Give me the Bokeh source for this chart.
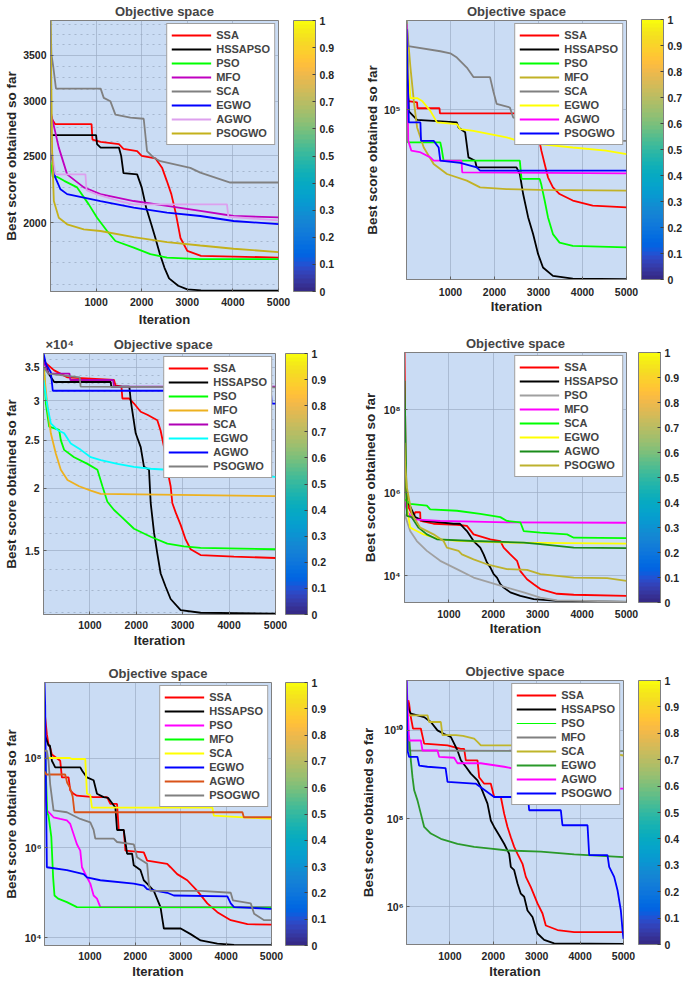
from bokeh.plotting import figure
from bokeh.layouts import column, row
from bokeh.models import Range1d, FixedTicker, ColorBar, LinearColorMapper
from bokeh.embed import file_html
from bokeh.resources import INLINE

FONT = "Liberation Sans"
BG = "#CADCF4"
GRID = "#9CADC4"
FRAME = "#7F7F7F"

NAMES = ["SSA", "HSSAPSO", "PSO", "MFO", "SCA", "EGWO", "AGWO", "PSOGWO"]
X_TICKS = [1000, 2000, 3000, 4000, 5000]
CB_TICKS = [0, 0.1, 0.2, 0.3, 0.4, 0.5, 0.6, 0.7, 0.8, 0.9, 1]
CB_LABELS = ["0", "0.1", "0.2", "0.3", "0.4", "0.5", "0.6", "0.7", "0.8", "0.9", "1"]

PARULA_RGB = [
    (0.2081, 0.1663, 0.5292), (0.2116, 0.1898, 0.5777), (0.2123, 0.2138, 0.6270), (0.2081, 0.2386, 0.6771),
    (0.1959, 0.2645, 0.7279), (0.1707, 0.2919, 0.7792), (0.1253, 0.3242, 0.8303), (0.0591, 0.3598, 0.8683),
    (0.0117, 0.3875, 0.8820), (0.0060, 0.4086, 0.8828), (0.0165, 0.4266, 0.8786), (0.0329, 0.4430, 0.8720),
    (0.0498, 0.4586, 0.8641), (0.0629, 0.4737, 0.8554), (0.0723, 0.4887, 0.8467), (0.0779, 0.5040, 0.8384),
    (0.0793, 0.5200, 0.8312), (0.0749, 0.5375, 0.8263), (0.0641, 0.5570, 0.8240), (0.0488, 0.5772, 0.8228),
    (0.0343, 0.5966, 0.8199), (0.0265, 0.6137, 0.8135), (0.0239, 0.6287, 0.8038), (0.0231, 0.6418, 0.7913),
    (0.0228, 0.6535, 0.7768), (0.0267, 0.6642, 0.7607), (0.0384, 0.6743, 0.7436), (0.0590, 0.6838, 0.7254),
    (0.0843, 0.6928, 0.7062), (0.1133, 0.7015, 0.6859), (0.1453, 0.7098, 0.6646), (0.1801, 0.7177, 0.6424),
    (0.2178, 0.7250, 0.6193), (0.2586, 0.7317, 0.5954), (0.3022, 0.7376, 0.5712), (0.3482, 0.7424, 0.5473),
    (0.3953, 0.7459, 0.5244), (0.4420, 0.7481, 0.5033), (0.4871, 0.7491, 0.4840), (0.5300, 0.7491, 0.4661),
    (0.5709, 0.7485, 0.4494), (0.6099, 0.7473, 0.4337), (0.6473, 0.7456, 0.4188), (0.6834, 0.7435, 0.4044),
    (0.7184, 0.7411, 0.3905), (0.7525, 0.7384, 0.3768), (0.7858, 0.7356, 0.3633), (0.8185, 0.7327, 0.3498),
    (0.8507, 0.7299, 0.3360), (0.8824, 0.7274, 0.3217), (0.9139, 0.7258, 0.3063), (0.9450, 0.7261, 0.2886),
    (0.9739, 0.7314, 0.2666), (0.9938, 0.7455, 0.2403), (0.9990, 0.7653, 0.2164), (0.9955, 0.7861, 0.1967),
    (0.9880, 0.8066, 0.1794), (0.9789, 0.8271, 0.1633), (0.9697, 0.8481, 0.1475), (0.9626, 0.8705, 0.1309),
    (0.9589, 0.8949, 0.1132), (0.9598, 0.9218, 0.0948), (0.9661, 0.9514, 0.0755), (0.9763, 0.9831, 0.0538),
]
PARULA = ["#%02x%02x%02x" % tuple(int(round(c * 255)) for c in t) for t in PARULA_RGB]

# ---------------- Panel 1 (top left) ----------------
tl_ssa = [(1, 2880), (40, 2820), (100, 2780), (900, 2780), (920, 2640), (1100, 2620), (1500, 2600), (1600, 2560),
          (1900, 2540), (2000, 2500), (2300, 2480), (2450, 2400), (2550, 2300), (2650, 2200), (2750, 2060),
          (2850, 1900), (3000, 1820), (3300, 1790), (5000, 1780)]
tl_hss = [(1, 2680), (1000, 2680), (1020, 2600), (1100, 2570), (1500, 2570), (1550, 2500), (1600, 2360),
          (1900, 2350), (2000, 2250), (2100, 2100), (2200, 2000), (2300, 1900), (2400, 1800), (2500, 1720),
          (2600, 1660), (2800, 1620), (3000, 1600), (3300, 1595), (5000, 1593)]
tl_pso = [(1, 2450), (50, 2330), (150, 2330), (300, 2300), (584, 2250), (839, 2126), (1022, 2033), (1241, 1945),
          (1423, 1881), (1825, 1840), (2190, 1800), (2555, 1780), (3285, 1770), (5000, 1770)]
tl_mfo = [(1, 2900), (182, 2570), (365, 2350), (730, 2250), (1095, 2200), (1825, 2150), (2555, 2115),
          (3285, 2080), (4015, 2045), (5000, 2035)]
tl_sca = [(1, 3930), (20, 3510), (60, 3370), (120, 3130), (1100, 3130), (1168, 3035), (1314, 3000), (1423, 2870),
          (1752, 2840), (2044, 2830), (2117, 2540), (2263, 2485), (2409, 2456), (3066, 2402), (3285, 2364),
          (3942, 2287), (5000, 2287)]
tl_egwo = [(1, 2550), (109, 2323), (219, 2236), (365, 2200), (1095, 2150), (1825, 2103), (2555, 2068),
           (3285, 2045), (4015, 2011), (5000, 1990)]
tl_agwo = [(1, 2600), (110, 2350), (766, 2350), (790, 2230), (1000, 2200), (1500, 2150), (1825, 2126),
           (3870, 2126), (3900, 2040), (5000, 2015)]
tl_psogwo = [(1, 3930), (36, 2540), (73, 2150), (182, 2033), (365, 1989), (730, 1956), (1095, 1945),
             (1825, 1905), (2555, 1874), (3285, 1853), (4015, 1833), (5000, 1813)]
tl_colors = ["#FF0000", "#000000", "#00FF00", "#C000C0", "#808080", "#0000FF", "#DDA0EE", "#C4B11B"]
tl_yticks = [2000, 2500, 3000, 3500]
tl_ylabels = ["2000", "2500", "3000", "3500"]
tl_yminor = [1625, 1750, 1875, 2125, 2250, 2375, 2625, 2750, 2875, 3125, 3250, 3375, 3625, 3750, 3875]

# ---------------- Panel 2 (top right) ----------------
tr_ssa = [(1, 1.06e5), (240, 1.05e5), (250, 1.01e5), (750, 1.01e5), (760, 0.976e5), (2950, 0.976e5),
          (3000, 0.84e5), (3065, 0.764e5), (3140, 0.70e5), (3215, 0.641e5), (3328, 0.60e5), (3479, 0.574e5),
          (3780, 0.55e5), (4232, 0.532e5), (5000, 0.526e5)]
tr_hss = [(1, 1.72e5), (53, 0.99e5), (241, 0.936e5), (1145, 0.92e5), (1182, 0.89e5), (1333, 0.862e5),
          (1408, 0.731e5), (1559, 0.715e5), (1596, 0.684e5), (2500, 0.684e5), (2575, 0.655e5), (2651, 0.574e5),
          (2764, 0.493e5), (2877, 0.441e5), (2990, 0.387e5), (3102, 0.354e5), (3328, 0.335e5), (3780, 0.329e5),
          (5000, 0.328e5)]
tr_pso = [(1, 1.15e5), (30, 0.807e5), (768, 0.807e5), (800, 0.772e5), (843, 0.715e5), (2575, 0.715e5),
          (2614, 0.634e5), (3027, 0.634e5), (3065, 0.61e5), (3140, 0.55e5), (3215, 0.493e5), (3328, 0.441e5),
          (3479, 0.417e5), (3780, 0.408e5), (5000, 0.404e5)]
tr_mfo = [(1, 1.8e5), (90, 1.32e5), (166, 1.06e5), (241, 0.89e5), (392, 0.78e5), (617, 0.70e5), (919, 0.655e5),
          (1371, 0.627e5), (1672, 0.60e5), (2274, 0.593e5), (3027, 0.59e5), (5000, 0.587e5)]
tr_sca = [(1, 1.8e5), (40, 1.52e5), (768, 1.47e5), (994, 1.45e5), (1145, 1.41e5), (1371, 1.32e5), (1521, 1.24e5),
          (1898, 1.24e5), (1973, 1.13e5), (2048, 1.04e5), (2349, 1.015e5), (2425, 0.95e5), (3000, 0.93e5),
          (3800, 0.88e5), (4684, 0.815e5), (5000, 0.815e5)]
tr_egwo = [(1, 1.5e5), (90, 1.08e5), (241, 1.08e5), (354, 1.06e5), (542, 0.993e5), (693, 0.92e5), (1145, 0.91e5),
           (1220, 0.88e5), (1521, 0.87e5), (1898, 0.852e5), (2274, 0.834e5), (2651, 0.807e5), (3027, 0.798e5),
           (3780, 0.78e5), (4533, 0.764e5), (5000, 0.747e5)]
tr_agwo = [(1, 1.76e5), (40, 0.815e5), (110, 0.764e5), (300, 0.757e5), (542, 0.731e5), (617, 0.715e5),
           (1250, 0.715e5), (1267, 0.662e5), (5000, 0.658e5)]
tr_psogwo = [(1, 1.70e5), (53, 0.92e5), (316, 0.92e5), (330, 0.815e5), (617, 0.815e5), (730, 0.78e5),
             (768, 0.715e5), (1220, 0.705e5), (1596, 0.684e5), (1672, 0.67e5), (5000, 0.67e5)]
tr_colors = ["#FF0000", "#000000", "#00FF00", "#C2B226", "#808080", "#FFFF00", "#FF00FF", "#0000FF"]
tr_yticks = [1e5]
tr_ylabels = ["10\u2075"]

# ---------------- Panel 3 (middle left) ----------------
ml_ssa = [(1, 3.6e4), (230, 3.45e4), (517, 3.34e4), (1520, 3.3e4), (1550, 3.22e4), (1680, 3.2e4), (1700, 3.03e4),
          (1844, 3.03e4), (1951, 2.96e4), (2095, 2.85e4), (2238, 2.81e4), (2453, 2.74e4), (2525, 2.61e4),
          (2597, 2.42e4), (2669, 2.18e4), (2740, 2.02e4), (2776, 1.87e4), (2848, 1.79e4), (2956, 1.69e4),
          (3063, 1.58e4), (3171, 1.51e4), (3386, 1.47e4), (4103, 1.46e4), (5000, 1.45e4)]
ml_hss = [(1, 3.67e4), (100, 3.41e4), (230, 3.27e4), (1450, 3.27e4), (1460, 3.2e4), (1850, 3.2e4), (1880, 3.0e4),
          (1987, 2.58e4), (2095, 2.42e4), (2166, 2.21e4), (2274, 2.18e4), (2310, 1.87e4), (2382, 1.63e4),
          (2453, 1.48e4), (2525, 1.35e4), (2633, 1.27e4), (2740, 1.2e4), (2956, 1.14e4), (3386, 1.126e4),
          (5000, 1.122e4)]
ml_pso = [(1, 3.5e4), (14, 3.45e4), (50, 2.96e4), (122, 2.66e4), (337, 2.62e4), (373, 2.5e4), (445, 2.39e4),
          (660, 2.31e4), (947, 2.24e4), (1162, 2.18e4), (1270, 2.02e4), (1377, 1.88e4), (1521, 1.81e4),
          (1664, 1.76e4), (1951, 1.66e4), (2310, 1.6e4), (2669, 1.55e4), (3027, 1.53e4), (3386, 1.52e4),
          (5000, 1.51e4)]
ml_mfo = [(1, 3.5e4), (86, 2.92e4), (158, 2.58e4), (265, 2.35e4), (373, 2.18e4), (517, 2.08e4), (768, 2.02e4),
          (1019, 1.98e4), (1234, 1.95e4), (5000, 1.93e4)]
ml_sca = [(1, 3.6e4), (100, 3.4e4), (560, 3.4e4), (580, 3.3e4), (1500, 3.3e4), (1520, 3.2e4), (5000, 3.2e4)]
ml_egwo = [(1, 3.3e4), (86, 2.92e4), (158, 2.70e4), (301, 2.62e4), (445, 2.58e4), (588, 2.46e4), (804, 2.39e4),
           (1019, 2.31e4), (1234, 2.28e4), (1593, 2.24e4), (1951, 2.21e4), (2310, 2.19e4), (2669, 2.18e4),
           (3500, 2.16e4), (4400, 2.12e4), (5000, 2.11e4)]
ml_agwo = [(1, 3.73e4), (50, 3.56e4), (158, 3.42e4), (200, 3.14e4), (4900, 3.14e4), (4920, 2.96e4), (5000, 2.96e4)]
ml_psogwo = [(1, 3.5e4), (100, 3.4e4), (780, 3.34e4), (800, 3.2e4), (5000, 3.19e4)]
ml_colors = ["#FF0000", "#000000", "#00FF00", "#EDB120", "#B000B5", "#00FFFF", "#0000FF", "#808080"]
ml_yticks = [1.5e4, 2e4, 2.5e4, 3e4, 3.5e4]
ml_ylabels = ["1.5", "2", "2.5", "3", "3.5"]
ml_yminor = [1.125e4, 1.25e4, 1.375e4, 1.625e4, 1.75e4, 1.875e4, 2.125e4, 2.25e4, 2.375e4, 2.625e4, 2.75e4,
             2.875e4, 3.125e4, 3.25e4, 3.375e4, 3.625e4]
ml_exponent = "\u00d710\u2074"

# ---------------- Panel 4 (middle right) ----------------
mr_ssa = [(1, 2.4e9), (30, 1.35e6), (90, 4.5e5), (203, 2.6e5), (240, 3.4e5), (353, 3.4e5), (360, 2.1e5),
          (654, 1.8e5), (1180, 1.7e5), (1406, 1.6e5), (1556, 1.0e5), (1932, 7.6e4), (2158, 6.9e4), (2233, 4.8e4),
          (2383, 3.3e4), (2534, 2.3e4), (2609, 1.3e4), (2759, 8.3e3), (2910, 6.3e3), (3060, 4.8e3), (3436, 3.7e3),
          (3812, 3.5e3), (5000, 3.3e3)]
mr_hss = [(1, 8.5e6), (53, 5.9e5), (90, 5.9e5), (120, 4.9e5), (241, 2.6e5), (429, 2.1e5), (805, 1.95e5),
          (1105, 1.8e5), (1250, 1.8e5), (1331, 1.45e5), (1406, 1.2e5), (1556, 6.9e4), (1707, 4.8e4), (1782, 3.3e4),
          (1857, 2.1e4), (1932, 1.6e4), (2008, 1.1e4), (2083, 9.1e3), (2158, 6.3e3), (2233, 5.2e3), (2383, 4.0e3),
          (2609, 3.3e3), (2910, 2.75e3), (3436, 2.5e3), (5000, 2.35e3)]
mr_pso = [(1, 3.1e5), (128, 1.2e5), (278, 6.9e4), (504, 4.0e4), (805, 2.3e4), (1180, 1.45e4), (1556, 9.1e3),
          (1932, 6.9e3), (2308, 5.2e3), (2684, 4.0e3), (3060, 3.0e3), (3436, 2.57e3), (5000, 2.4e3)]
mr_mfo = [(1, 6.5e5), (60, 3.5e5), (200, 2.3e5), (805, 2.1e5), (2308, 1.95e5), (5000, 1.9e5)]
mr_sca = [(1, 7e5), (128, 5.4e5), (504, 4.9e5), (579, 4.0e5), (1180, 3.7e5), (1707, 3.1e5), (2158, 2.6e5),
          (2308, 2.1e5), (2609, 1.95e5), (2684, 1.2e5), (3060, 1.1e5), (3662, 1.0e5), (3812, 8.3e4), (5000, 8.1e4)]
mr_egwo = [(1, 5.4e7), (53, 4.5e5), (128, 1.45e5), (278, 1.2e5), (429, 1.0e5), (805, 7.6e4), (1180, 7.0e4),
           (2308, 6.3e4), (5000, 6.0e4)]
mr_agwo = [(1, 5e8), (53, 2.8e5), (160, 2.6e5), (316, 1.45e5), (504, 1.0e5), (730, 7.6e4), (1556, 6.9e4),
           (2684, 6.3e4), (3060, 5.8e4), (3812, 4.8e4), (5000, 4.65e4)]
mr_psogwo = [(1, 1.6e7), (15, 4.9e6), (53, 1.35e6), (165, 3.1e5), (353, 1.45e5), (654, 1.0e5), (880, 6.9e4),
             (955, 4.8e4), (1218, 4.0e4), (1293, 3.3e4), (1556, 2.5e4), (1857, 1.9e4), (2308, 1.45e4),
             (2759, 1.4e4), (3060, 1.1e4), (3812, 9.1e3), (4564, 8.8e3), (5000, 7.6e3)]
mr_colors = ["#FF0000", "#000000", "#A0A0A0", "#FF00FF", "#00FF00", "#FFFF00", "#1A8C1A", "#BDB22E"]
mr_yticks = [1e4, 1e6, 1e8]
mr_ylabels = ["10\u2074", "10\u2076", "10\u2078"]

# ---------------- Panel 5 (bottom left) ----------------
bl_ssa = [(1, 1.1e9), (52, 3.4e8), (88, 2.0e8), (125, 1.7e8), (162, 1.2e8), (346, 8.7e7), (383, 3.7e7),
          (530, 3.7e7), (567, 1.9e7), (641, 1.6e7), (714, 1.45e7), (1082, 1.35e7), (1377, 1.35e7), (1451, 9.5e6),
          (1598, 9.5e6), (1635, 2.5e6), (1745, 2.5e6), (1782, 8.7e5), (2187, 7.9e5), (2261, 5.2e5), (2703, 4.4e5),
          (2776, 3.7e5), (2923, 2.6e5), (3144, 1.9e5), (3365, 1.1e5), (3586, 5.8e4), (3807, 3.7e4), (4102, 2.45e4),
          (4470, 2.0e4), (5000, 1.95e4)]
bl_hss = [(1, 3.4e8), (88, 1.9e8), (120, 1.9e8), (162, 8.7e7), (236, 6.2e7), (788, 6.2e7), (830, 5.2e7),
          (935, 3.7e7), (1082, 3.2e7), (1156, 1.6e7), (1303, 1.35e7), (1400, 1.3e7), (1561, 7.9e6), (1598, 2.5e6),
          (1745, 2.5e6), (1819, 7.4e5), (1929, 7.4e5), (1966, 4.1e5), (2113, 3.2e5), (2187, 1.9e5), (2261, 1.6e5),
          (2408, 1.1e5), (2555, 4.8e4), (2629, 1.6e4), (3000, 1.6e4), (3218, 1.2e4), (3439, 8.7e3), (3807, 7.4e3),
          (4175, 6.9e3), (5000, 6.8e3)]
bl_pso = [(1, 3e7), (52, 6.8e6), (125, 5.8e6), (199, 4.8e6), (346, 4.4e6), (493, 4.1e6), (567, 3.4e6),
          (714, 1.2e6), (788, 8.7e5), (825, 3.7e5), (935, 2.2e5), (1009, 1.6e5), (1082, 8.7e4), (1156, 7.4e4),
          (1230, 4.8e4), (5000, 4.8e4)]
bl_mfo = [(1, 3e8), (60, 6e6), (88, 5.2e6), (150, 1.75e6), (190, 2.2e5), (220, 8.7e4), (300, 7.4e4), (493, 6.2e4),
          (714, 4.8e4), (5000, 4.7e4)]
bl_sca = [(1, 1.2e8), (50, 1.0e8), (560, 1.0e8), (604, 9.5e7), (898, 9.5e7), (935, 1.6e7), (1009, 1.5e7),
          (1046, 7.9e6), (3697, 7.9e6), (3730, 5.2e6), (5000, 4.4e6)]
bl_egwo = [(1, 4.8e9), (15, 1.5e9), (30, 4e7), (52, 3.7e5), (493, 3.2e5), (862, 2.6e5), (935, 2.2e5),
           (1230, 1.9e5), (1966, 1.6e5), (2187, 1.45e5), (2261, 1.2e5), (2703, 1.0e5), (2850, 8.7e4),
           (4028, 8.3e4), (4102, 5.8e4), (4175, 4.8e4), (5000, 4.4e4)]
bl_agwo = [(1, 5e7), (40, 4.3e7), (456, 4.3e7), (500, 2.8e7), (560, 2.2e7), (620, 1.4e7), (660, 6.2e6),
           (4360, 6.2e6), (4390, 4.8e6), (5000, 4.8e6)]
bl_psogwo = [(1, 1.45e8), (52, 1.45e8), (88, 8.7e7), (125, 2.6e7), (199, 6.8e6), (493, 6.2e6), (788, 4.4e6),
             (1009, 3.7e6), (1082, 2.5e6), (1119, 1.6e6), (1524, 1.6e6), (1598, 1.35e6), (1966, 1.2e6),
             (2040, 6.2e5), (2113, 5.5e5), (2261, 4.4e5), (2298, 1.6e5), (2334, 1.1e5), (3439, 1.1e5),
             (4102, 1.0e5), (4150, 6.8e4), (4543, 5.8e4), (4617, 3.4e4), (4838, 2.45e4), (5000, 2.45e4)]
bl_colors = ["#FF0000", "#000000", "#FF00FF", "#00FF00", "#FFFF00", "#0000FF", "#D95319", "#808080"]
bl_yticks = [1e4, 1e6, 1e8]
bl_ylabels = ["10\u2074", "10\u2076", "10\u2078"]

# ---------------- Panel 6 (bottom right) ----------------
br_ssa = [(1, 3e10), (40, 4.8e10), (61, 4.0e10), (100, 2.0e10), (150, 1.1e10), (330, 1.1e10), (407, 5.0e9),
          (945, 4.6e9), (1250, 3.8e9), (1329, 3.8e9), (1367, 2.1e9), (1636, 2.1e9), (1674, 8.7e8), (1790, 6.2e8),
          (1943, 6.2e8), (2020, 3.1e8), (2174, 3.1e8), (2250, 1.3e8), (2327, 6.5e7), (2404, 3.8e7), (2481, 2.3e7),
          (2558, 1.6e7), (2673, 9.5e6), (2750, 4.8e6), (2865, 2.8e6), (3018, 1.2e6), (3134, 7.1e5), (3210, 3.8e5),
          (3479, 3.0e5), (3863, 2.7e5), (5000, 2.7e5)]
br_hss = [(1, 5.6e10), (61, 2.8e10), (100, 2.4e10), (253, 2.2e10), (407, 2.0e10), (561, 1.55e10), (714, 1.0e10),
          (868, 8.3e9), (1021, 7.1e9), (1098, 5.0e9), (1175, 3.5e9), (1252, 2.1e9), (1367, 1.5e9), (1482, 1.05e9),
          (1636, 7.4e8), (1713, 5.2e8), (1866, 2.2e8), (1943, 9.1e7), (2020, 6.5e7), (2135, 4.2e7), (2250, 2.7e7),
          (2366, 1.6e7), (2404, 8.1e6), (2481, 6.8e6), (2558, 3.4e6), (2634, 2.0e6), (2711, 1.7e6), (2788, 8.3e5),
          (2903, 5.9e5), (3018, 2.5e5), (3172, 1.8e5), (3402, 1.5e5), (5000, 1.45e5)]
br_pso = [(1, 1.2e10), (60, 3.5e9), (5000, 3.4e9)]
br_mfo = [(1, 1.2e10), (60, 3.5e9), (5000, 3.4e9)]
br_sca = [(1, 2.2e10), (484, 2.2e10), (522, 1.55e10), (791, 1.55e10), (829, 7.8e9), (1137, 7.8e9), (1300, 7.5e9),
          (1559, 6.5e9), (1636, 5.5e9), (1713, 4.6e9), (2481, 4.6e9), (3500, 4.6e9), (4400, 4.0e9), (4700, 3.0e9),
          (5000, 2.7e9)]
br_egwo = [(1, 1e10), (61, 7.1e9), (100, 2.1e9), (138, 8.7e8), (177, 4.4e8), (253, 2.6e8), (330, 1.3e8),
           (407, 6.5e7), (561, 4.6e7), (791, 3.5e7), (1175, 2.7e7), (1559, 2.3e7), (1943, 2.1e7), (2327, 1.9e7),
           (3095, 1.8e7), (3863, 1.55e7), (5000, 1.35e7)]
br_agwo = [(1, 1.35e11), (61, 5.9e9), (330, 5.9e9), (369, 3.5e9), (714, 3.5e9), (753, 2.5e9), (1098, 2.4e9),
           (1175, 1.8e9), (1713, 1.8e9), (2250, 1.5e9), (2500, 1.35e9), (3500, 1.2e9), (4500, 6e8), (4800, 4.8e8),
           (5000, 4.8e8)]
br_psogwo = [(1, 1.35e11), (23, 3.5e9), (61, 2.5e9), (253, 2.5e9), (292, 1.6e9), (484, 1.5e9), (900, 1.4e9),
             (945, 6.8e8), (1559, 6.2e8), (1600, 6.2e8), (2020, 3.1e8), (2800, 3.1e8), (2826, 1.55e8),
             (3556, 1.55e8), (3594, 7.1e7), (4171, 7.1e7), (4209, 1.5e7), (4631, 1.5e7), (4670, 8.1e6),
             (4785, 4.8e6), (4862, 2.4e6), (4939, 8.3e5), (4977, 3.0e5), (5000, 1.9e5)]
br_colors = ["#FF0000", "#000000", "#00FF00", "#808080", "#BFB52A", "#2A992A", "#FF00FF", "#0000FF"]
br_widths = [1.8, 1.8, 1.0, 1.8, 1.8, 1.8, 1.8, 1.8]
br_yticks = [1e6, 1e8, 1e10]
br_ylabels = ["10\u2076", "10\u2078", "10\u00b9\u2070"]

STD_W = [1.8] * 8
TITLE = "Objective space"


def build(series, colors, widths, y_lo, y_hi, y_ticks, y_labels, y_minor, geom, stand, title=TITLE, talign="center"):
    W, H, L, R, T, B, gap = geom
    y_std, y_lstd, x_std, x_lstd = stand
    frame_h = H - T - B
    p = figure(width=W, height=H, y_axis_type="log",
               x_range=Range1d(0, 5000), y_range=Range1d(y_lo, y_hi),
               output_backend="svg", toolbar_location=None, frame_align=False,
               min_border_left=L, min_border_right=R, min_border_top=T, min_border_bottom=B,
               background_fill_color=BG, border_fill_color="white",
               outline_line_color=FRAME, outline_line_width=1,
               x_axis_label="Iteration", y_axis_label="Best score obtained so far")
    p.title.text = title
    p.title.align = talign
    p.title.offset = 2 if talign == "left" else 0
    p.title.text_font = FONT
    p.title.text_font_size = "13px"
    p.title.text_font_style = "bold"
    p.title.standoff = 3

    p.xaxis.ticker = FixedTicker(ticks=X_TICKS)
    p.yaxis.ticker = FixedTicker(ticks=y_ticks, minor_ticks=y_minor)
    p.yaxis.major_label_overrides = dict(zip(y_ticks, y_labels))

    for ax in (p.xaxis, p.yaxis):
        ax.axis_line_color = FRAME
        ax.major_tick_in = 3
        ax.major_tick_out = 0
        ax.minor_tick_in = 0
        ax.minor_tick_out = 0
        ax.major_tick_line_color = "#606060"
        ax.minor_tick_line_color = None
        ax.major_label_text_font = FONT
        ax.major_label_text_font_style = "bold"
        ax.major_label_text_font_size = "10.5px"
        ax.major_label_text_color = "#262626"
        ax.axis_label_text_font = FONT
        ax.axis_label_text_font_style = "bold"
        ax.axis_label_text_color = "#262626"
    p.xaxis.axis_label_text_font_size = "13px"
    p.yaxis.axis_label_text_font_size = "13.5px"
    p.yaxis.major_label_standoff = y_std
    p.yaxis.axis_label_standoff = y_lstd
    p.xaxis.major_label_standoff = x_std
    p.xaxis.axis_label_standoff = x_lstd

    p.xgrid.grid_line_color = GRID
    p.ygrid.grid_line_color = GRID
    p.xgrid.grid_line_alpha = 0.7
    p.ygrid.grid_line_alpha = 0.7
    if y_minor:
        p.ygrid.minor_grid_line_color = GRID
        p.ygrid.minor_grid_line_dash = "dotted"
        p.ygrid.minor_grid_line_alpha = 0.8

    for name, pts, col, lw in zip(NAMES, series, colors, widths):
        xs = [a for a, b in pts]
        ys = [b for a, b in pts]
        p.line(xs, ys, line_color=col, line_width=lw, legend_label=name)

    lg = p.legend[0]
    lg.location = "top_right"
    lg.margin = 3
    lg.padding = 4
    lg.spacing = 0
    lg.glyph_width = 40
    lg.glyph_height = 14
    lg.label_height = 14
    lg.label_standoff = 5
    lg.label_text_font = FONT
    lg.label_text_font_size = "11px"
    lg.label_text_font_style = "bold"
    lg.border_line_color = "#404040"
    lg.border_line_width = 1
    lg.background_fill_color = "white"
    lg.background_fill_alpha = 1.0

    mapper = LinearColorMapper(palette=PARULA, low=0, high=1)
    cb = ColorBar(color_mapper=mapper, ticker=FixedTicker(ticks=CB_TICKS),
                  major_label_overrides=dict(zip(CB_TICKS, CB_LABELS)),
                  width=22, height=frame_h, location=(gap, 0), padding=0, margin=0,
                  bar_line_color=FRAME, major_tick_in=3, major_tick_out=0,
                  major_tick_line_color="#404040", minor_tick_line_color=None,
                  major_label_text_font=FONT, major_label_text_font_style="bold",
                  major_label_text_font_size="10.5px", major_label_text_color="#262626",
                  label_standoff=4, background_fill_alpha=0, border_line_color=None)
    p.add_layout(cb, "right")
    return p


p1 = build([tl_ssa, tl_hss, tl_pso, tl_mfo, tl_sca, tl_egwo, tl_agwo, tl_psogwo], tl_colors, STD_W,
           1589, 3930, tl_yticks, tl_ylabels, tl_yminor, (340, 330, 50, 62, 20, 39, 15), (4, 1, 6, 3))
p2 = build([tr_ssa, tr_hss, tr_pso, tr_mfo, tr_sca, tr_egwo, tr_agwo, tr_psogwo], tr_colors, STD_W,
           3.27e4, 1.8e5, tr_yticks, tr_ylabels, [], (345, 330, 66, 58, 19, 51, 15), (6, 1, 8, 0))
ml_title = ml_exponent + "\u00a0" * 11 + TITLE
p3 = build([ml_ssa, ml_hss, ml_pso, ml_mfo, ml_sca, ml_egwo, ml_agwo, ml_psogwo], ml_colors, STD_W,
           1.117e4, 3.73e4, ml_yticks, ml_ylabels, ml_yminor, (340, 320, 43, 65, 23, 36, 10), (4, 3, 6, 1),
           title=ml_title, talign="left")
p4 = build([mr_ssa, mr_hss, mr_pso, mr_mfo, mr_sca, mr_egwo, mr_agwo, mr_psogwo], mr_colors, STD_W,
           2.28e3, 2.4e9, mr_yticks, mr_ylabels, [], (345, 320, 64, 59, 22, 48, 12), (4, 3, 7, 0))
p5 = build([bl_ssa, bl_hss, bl_pso, bl_mfo, bl_sca, bl_egwo, bl_agwo, bl_psogwo], bl_colors, STD_W,
           6.7e3, 4.8e9, bl_yticks, bl_ylabels, [], (340, 331, 44, 69, 32, 36, 14), (3, 3, 6, 1))
p6 = build([br_ssa, br_hss, br_pso, br_mfo, br_sca, br_egwo, br_agwo, br_psogwo], br_colors, br_widths,
           1.41e5, 1.35e11, br_yticks, br_ylabels, [], (345, 331, 66, 62, 30, 37, 15), (3, 5, 7, 1))

layout = column(row(p1, p2), row(p3, p4), row(p5, p6))

open("out.html", "w").write(file_html(layout, INLINE))
